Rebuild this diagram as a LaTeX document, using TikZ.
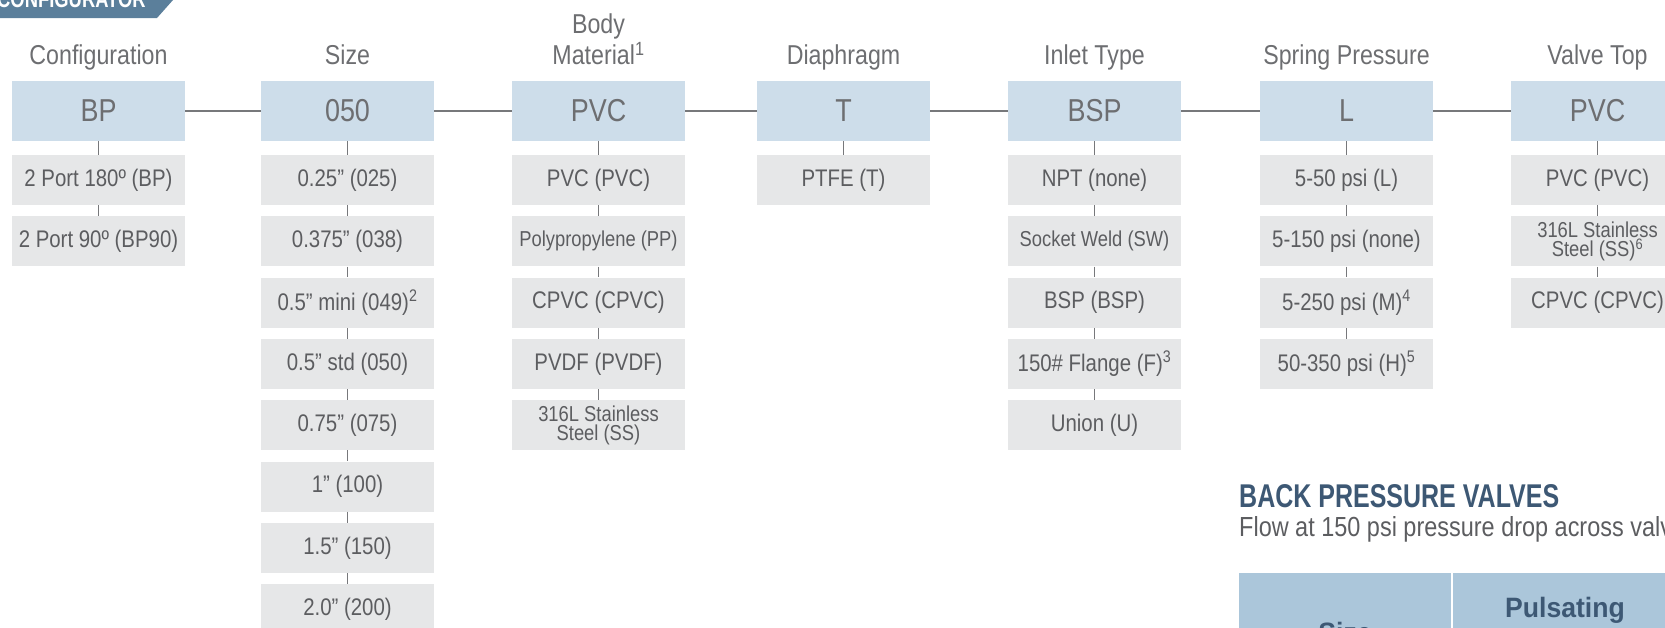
\documentclass[tikz,border=0pt]{standalone}
\usepackage{fontspec}
\setmainfont[FakeStretch=0.85]{Liberation Sans}
\newfontfamily\condbold[FakeStretch=0.76]{Liberation Sans}
\newfontfamily\tabbold[FakeStretch=0.95]{Liberation Sans}

\definecolor{headblue}{HTML}{CDDDEA}
\definecolor{optgray}{HTML}{E6E7E8}
\definecolor{txtgray}{HTML}{6D6E71}
\definecolor{opttxt}{HTML}{5C5D60}
\definecolor{linegray}{HTML}{77787B}
\definecolor{bannerblue}{HTML}{5B7F9B}
\definecolor{navy}{HTML}{3D5874}
\definecolor{tabblue}{HTML}{ABC6DA}

\tikzset{
  coltitle/.style={anchor=south, inner sep=0pt, text depth=0pt, align=center,
    text=txtgray, font=\fontsize{27.3}{31}\selectfont},
  head/.style={fill=headblue, minimum width=173pt, minimum height=60pt, inner sep=0pt,
    text=txtgray, font=\fontsize{31.7}{36}\selectfont},
  opt/.style={fill=optgray, minimum width=173pt, minimum height=50pt, inner sep=0pt,
    align=center, text=opttxt, font=\fontsize{24}{28}\selectfont},
  optsm/.style={opt, font=\fontsize{21.6}{19.5}\selectfont},
  link/.style={draw=linegray, line width=1.3pt},
  tick/.style={draw=linegray, line width=0.9pt}
}

\begin{document}
\begin{tikzpicture}[x=1pt,y=-1pt]
\useasboundingbox (0,0) rectangle (1665,627);

%banner
\fill[bannerblue] (0,-20) -- (190.8,-20) -- (157,18) -- (0,18) -- cycle;
\node[anchor=base west, inner sep=0pt, text=white,
  font=\condbold\bfseries\fontsize{24.2}{28}\selectfont] (banner) at (-3,7) {CONFIGURATOR};

%column titles
\node[coltitle] (tConf) at (98.5,65) {Configuration};
\node[coltitle] (tSize) at (347.5,65) {Size};
\node[coltitle] (tBody) at (598.5,65) {Body\\Material\textsuperscript{1}};
\node[coltitle] (tDia) at (843.5,65) {Diaphragm};
\node[coltitle] (tInlet) at (1094.5,65) {Inlet Type};
\node[coltitle] (tSpring) at (1346.5,65) {Spring Pressure};
\node[coltitle] (tTop) at (1597.5,65) {Valve Top};

%headers
\node[head] (hdConf) at (98.5,111) {BP};
\node[head] (hdSize) at (347.5,111) {050};
\node[head] (hdBody) at (598.5,111) {PVC};
\node[head] (hdDia) at (843.5,111) {T};
\node[head] (hdInlet) at (1094.5,111) {BSP};
\node[head] (hdSpring) at (1346.5,111) {L};
\node[head] (hdTop) at (1597.5,111) {PVC};
\draw[link] (hdConf.east) -- (hdSize.west);
\draw[link] (hdSize.east) -- (hdBody.west);
\draw[link] (hdBody.east) -- (hdDia.west);
\draw[link] (hdDia.east) -- (hdInlet.west);
\draw[link] (hdInlet.east) -- (hdSpring.west);
\draw[link] (hdSpring.east) -- (hdTop.west);

%configuration
\node[opt] (conf1) at (98.5,180) {2 Port 180º (BP)};
\node[opt] (conf2) at (98.5,241.3) {2 Port 90º (BP90)};
\draw[tick] (hdConf.south) -- (conf1.north);
\draw[tick] (conf1.south) -- (conf2.north);

%size
\node[opt] (size1) at (347.5,180) {0.25” (025)};
\node[opt] (size2) at (347.5,241.3) {0.375” (038)};
\node[opt] (size3) at (347.5,302.6) {0.5” mini (049)\textsuperscript{2}};
\node[opt] (size4) at (347.5,363.9) {0.5” std (050)};
\node[opt] (size5) at (347.5,425.2) {0.75” (075)};
\node[opt] (size6) at (347.5,486.5) {1” (100)};
\node[opt] (size7) at (347.5,547.8) {1.5” (150)};
\node[opt] (size8) at (347.5,609.1) {2.0” (200)};
\draw[tick] (hdSize.south) -- (size1.north);
\foreach \i [count=\j from 2] in {1,...,7}
  \draw[tick] (size\i.south) -- (size\j.north);

%body material
\node[opt] (body1) at (598.5,180) {PVC (PVC)};
\node[optsm] (body2) at (598.5,241.3) {Polypropylene (PP)};
\node[opt] (body3) at (598.5,302.6) {CPVC (CPVC)};
\node[opt] (body4) at (598.5,363.9) {PVDF (PVDF)};
\node[optsm] (body5) at (598.5,425.2) {316L Stainless\\Steel (SS)};
\draw[tick] (hdBody.south) -- (body1.north);
\foreach \i [count=\j from 2] in {1,...,4}
  \draw[tick] (body\i.south) -- (body\j.north);

%diaphragm
\node[opt] (dia1) at (843.5,180) {PTFE (T)};
\draw[tick] (hdDia.south) -- (dia1.north);

%inlet type
\node[opt] (inlet1) at (1094.5,180) {NPT (none)};
\node[optsm] (inlet2) at (1094.5,241.3) {Socket Weld (SW)};
\node[opt] (inlet3) at (1094.5,302.6) {BSP (BSP)};
\node[opt] (inlet4) at (1094.5,363.9) {150\# Flange (F)\textsuperscript{3}};
\node[opt] (inlet5) at (1094.5,425.2) {Union (U)};
\draw[tick] (hdInlet.south) -- (inlet1.north);
\foreach \i [count=\j from 2] in {1,...,4}
  \draw[tick] (inlet\i.south) -- (inlet\j.north);

%spring pressure
\node[opt] (spring1) at (1346.5,180) {5-50 psi (L)};
\node[opt] (spring2) at (1346.5,241.3) {5-150 psi (none)};
\node[opt] (spring3) at (1346.5,302.6) {5-250 psi (M)\textsuperscript{4}};
\node[opt] (spring4) at (1346.5,363.9) {50-350 psi (H)\textsuperscript{5}};
\draw[tick] (hdSpring.south) -- (spring1.north);
\foreach \i [count=\j from 2] in {1,...,3}
  \draw[tick] (spring\i.south) -- (spring\j.north);

%valve top
\node[opt] (top1) at (1597.5,180) {PVC (PVC)};
\node[optsm] (top2) at (1597.5,241.3) {316L Stainless\\Steel (SS)\textsuperscript{6}};
\node[opt] (top3) at (1597.5,302.6) {CPVC (CPVC)};
\draw[tick] (hdTop.south) -- (top1.north);
\draw[tick] (top1.south) -- (top2.north);
\draw[tick] (top2.south) -- (top3.north);

%back pressure table
\node[anchor=base west, inner sep=0pt, text=navy,
  font=\condbold\bfseries\fontsize{32.9}{38}\selectfont] (bpv) at (1239,507) {BACK PRESSURE VALVES};
\node[anchor=base west, inner sep=0pt, text=opttxt,
  font=\fontsize{27.6}{32}\selectfont] (flow) at (1239,536) {Flow at 150 psi pressure drop across valves};
\fill[tabblue] (1239,573) rectangle (1720,700);
\draw[white, line width=2pt] (1452,573) -- (1452,700);
\node[anchor=base, inner sep=0pt, text=navy,
  font=\tabbold\bfseries\fontsize{28}{32}\selectfont] (tabSize) at (1345,642) {Size};
\node[anchor=base, inner sep=0pt, text=navy,
  font=\tabbold\bfseries\fontsize{28}{32}\selectfont] (tabPuls) at (1565,617) {Pulsating};
\end{tikzpicture}
\end{document}
